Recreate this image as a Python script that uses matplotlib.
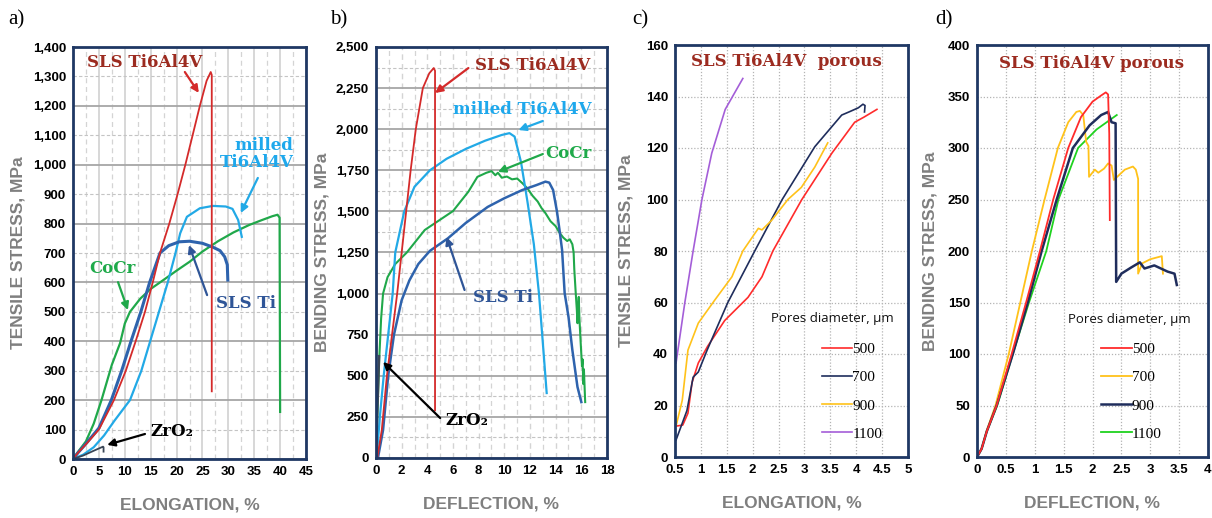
import numpy as np
import matplotlib
matplotlib.use('Agg')
import matplotlib.pyplot as plt
from matplotlib.ticker import MultipleLocator, FuncFormatter
from matplotlib.lines import Line2D

# ---------------- data ----------------
# a) tensile, elongation %
a_red_x = [0, 1, 2.5, 5, 7.9, 10.2, 12.1, 13.9, 15.4, 16.8, 18.6, 20.2, 21.7, 23.1, 24.5, 25.8, 26.6, 26.8, 26.8]
a_red_y = [0, 22, 50, 100, 200, 300, 400, 500, 600, 700, 800, 900, 1000, 1100, 1200, 1285, 1315, 1305, 230]
a_ti_x = [0, 1, 2.5, 5, 7.4, 9.4, 11.2, 13.1, 14.8, 16.8, 18.5, 20.5, 22.5, 25, 27, 28.4, 29.3, 29.8, 29.9]
a_ti_y = [0, 22, 52, 105, 200, 300, 400, 500, 600, 700, 725, 738, 740, 733, 720, 708, 687, 660, 608]
a_mill_x = [0, 2, 4, 6, 8, 11, 13.2, 14.9, 16.6, 18.3, 19.8, 20.7, 22, 24.5, 27, 29.5, 30.8, 31.9, 32.6]
a_mill_y = [0, 15, 40, 80, 130, 200, 300, 400, 500, 600, 700, 767, 823, 852, 860, 858, 850, 812, 755]
a_cocr_x = [0, 1, 2.5, 4, 5.5, 7.5, 9.1, 10, 11, 13, 15, 16.8, 20, 22.5, 25, 28, 31, 34, 36.5, 38.5, 39.5, 39.9, 40]
a_cocr_y = [0, 25, 60, 120, 200, 320, 394, 460, 500, 545, 578, 600, 640, 670, 705, 740, 770, 795, 812, 825, 830, 820, 160]
a_zro_x = [0, 2, 4, 5.8, 5.9, 5.9]
a_zro_y = [0, 12, 28, 42, 40, 25]

# b) bending, deflection %
b_red_x = [0.1, 0.45, 0.85, 1.25, 1.65, 2.0, 2.35, 2.7, 3.1, 3.65, 4.15, 4.5, 4.6, 4.6]
b_red_y = [0, 170, 500, 750, 1000, 1250, 1500, 1750, 2000, 2250, 2340, 2372, 2355, 290]
b_mill_x = [0.05, 0.3, 0.6, 0.95, 1.3, 1.5, 2.2, 3.0, 4.2, 5.5, 7, 8.5, 9.8, 10.4, 10.8, 11.3, 11.8, 12.3, 12.7, 13.0, 13.3]
b_mill_y = [0, 250, 500, 750, 1000, 1250, 1500, 1650, 1750, 1820, 1880, 1930, 1965, 1976, 1955, 1800, 1560, 1300, 1000, 700, 395]
b_cocr_x = [0, 0.1, 0.25, 0.4, 0.55, 0.9, 1.5, 2.4, 3.8, 6.0, 7.2, 7.9, 8.6, 9.0, 9.3, 9.5, 9.8, 10.2, 10.6, 11.0,
            11.4, 11.8, 12.2, 12.6, 12.9, 13.2, 13.6, 14.0, 14.3, 14.6, 14.9, 15.1, 15.3, 15.4, 15.45, 15.55, 15.65,
            15.7, 15.8, 15.85, 15.95, 16.05, 16.1, 16.15, 16.2, 16.3]
b_cocr_y = [0, 250, 600, 850, 1000, 1100, 1180, 1250, 1387, 1502, 1620, 1710, 1735, 1745, 1720, 1735, 1705, 1712, 1695, 1700,
            1672, 1640, 1595, 1560, 1520, 1490, 1440, 1410, 1370, 1340, 1320, 1330, 1300, 1250, 1150, 1020, 900,
            820, 980, 850, 700, 560, 600, 450, 540, 340]
b_ti_x = [0.15, 0.55, 0.95, 1.4, 2.0, 2.6, 3.3, 4.2, 5.6, 7, 8.7, 10, 11.4, 12.5, 13.2, 13.5, 13.8, 14.1, 14.3, 14.5,
          14.7, 15.0, 15.3, 15.7, 16.0]
b_ti_y = [0, 170, 500, 750, 960, 1080, 1180, 1260, 1336, 1430, 1527, 1580, 1630, 1660, 1681, 1675, 1630, 1500, 1387, 1265,
          1003, 858, 657, 432, 340]
b_zro_x = [0.02, 0.1, 0.2, 0.25]
b_zro_y = [0, 250, 500, 620]

# c) porous tensile
c_500_x = [0.52, 0.65, 0.75, 0.83, 0.95, 1.13, 1.46, 1.91, 2.18, 2.39, 2.95, 3.53, 3.97, 4.15, 4.4]
c_500_y = [12, 12.4, 17, 29, 36.5, 43, 53, 62, 70, 80, 100, 118, 130, 132, 135]
c_700_x = [0.52, 0.73, 0.85, 0.95, 1.12, 1.52, 2.04, 2.57, 3.2, 3.72, 3.86, 4.04, 4.13, 4.17, 4.16]
c_700_y = [6.6, 18, 31, 33, 41.5, 60, 80, 100, 120.5, 132.8, 134, 135.6, 137, 136.5, 134]
c_900_x = [0.52, 0.64, 0.75, 0.95, 1.27, 1.6, 1.81, 2.11, 2.18, 2.37, 2.68, 2.94, 3.2, 3.45]
c_900_y = [12, 22, 41.5, 52, 61, 70, 80, 88.8, 88.2, 92, 100, 104.7, 112.6, 122]
c_1100_x = [0.52, 0.69, 0.85, 1.02, 1.21, 1.47, 1.81]
c_1100_y = [36.5, 60, 80, 100, 118, 135, 147]

# d) porous bending
d_500_x = [0, 0.08, 0.17, 0.34, 0.6, 0.85, 1.09, 1.32, 1.58, 1.8, 2.0, 2.15, 2.23, 2.27, 2.29, 2.3]
d_500_y = [0, 8, 25, 50, 100, 150, 200, 250, 300, 330, 345, 351, 354, 352, 314, 230]
d_700_x = [0, 0.08, 0.17, 0.32, 0.55, 0.75, 0.95, 1.17, 1.4, 1.58, 1.72, 1.78, 1.84, 1.89, 1.93, 1.94, 2.04, 2.1,
           2.2, 2.27, 2.33, 2.37, 2.56, 2.7, 2.75, 2.79, 2.79, 2.86, 3.0, 3.2, 3.22]
d_700_y = [0, 8, 26, 50, 100, 150, 200, 250, 300, 325, 335, 336, 332, 306, 302, 272, 279, 276,
           280, 285, 283, 269, 279, 282, 279, 270, 178, 188, 192, 195, 178]
d_900_x = [0, 0.08, 0.17, 0.34, 0.62, 0.88, 1.12, 1.38, 1.66, 1.95, 2.15, 2.27, 2.33, 2.4, 2.41, 2.5, 2.67, 2.82,
           2.9, 3.07, 3.3, 3.42, 3.46]
d_900_y = [0, 8, 25, 50, 100, 150, 200, 250, 300, 322, 332, 335, 325, 324, 170, 178, 184, 189,
           183, 186, 180, 178, 167]
d_1100_x = [0, 0.08, 0.17, 0.35, 0.62, 0.9, 1.2, 1.41, 1.75, 2.07, 2.42]
d_1100_y = [0, 8, 25, 50, 100, 150, 200, 250, 300, 318, 332]

pore_labels = ['500', '700', '900', '1100']

# ---------------- style ----------------
FRAME = '#1f3864'
RED = '#d42a2a'
TIBLUE = '#2e63ad'
LBLUE = '#22a9e6'
GREEN = '#20a84a'
ZRO = '#3a4656'
TXTRED = '#9c2b20'
C_RED, C_NAVY, C_YEL, C_PUR, C_GRN = '#ff2b2b', '#1f2d5c', '#ffc21a', '#a45ed8', '#1fd21f'

TICKFONT = dict(family='Liberation Sans', weight='bold', size=9.5)
LABFONT = dict(family='Liberation Sans', weight='bold', size=12.5, color='#7f7f7f')
NOTEFONT = dict(family='DejaVu Serif', weight='bold', size=12)

fig = plt.figure(figsize=(12.12, 5.18), dpi=100)
W, H = 1212, 518


def make_axes(l, r, t, b):
    return fig.add_axes([l / W, 1 - b / H, (r - l) / W, (b - t) / H])


def frame(ax, ylabel, xlabel, ylab_x):
    ax.set_axisbelow(True)
    for s in ax.spines.values():
        s.set_color(FRAME)
        s.set_linewidth(2.0)
    ax.tick_params(which='both', length=0, pad=5)
    for lab in ax.get_xticklabels(which='both') + ax.get_yticklabels(which='both'):
        lab.set_fontproperties(TICKFONT)
    ax.set_ylabel(ylabel, **LABFONT)
    ax.yaxis.set_label_coords(ylab_x, 0.5)
    ax.set_xlabel(xlabel, **LABFONT)
    ax.xaxis.set_label_coords(0.5, -0.093)


def arrow(ax, tail, head, color, lw=1.6):
    ax.annotate('', xy=head, xytext=tail,
                arrowprops=dict(arrowstyle='-|>', color=color, lw=lw, mutation_scale=11,
                                shrinkA=0, shrinkB=0))


comma = FuncFormatter(lambda v, p: '{:,.0f}'.format(v))
plain = FuncFormatter(lambda v, p: '{:g}'.format(v))

# ---------------- a) ----------------
ax = make_axes(73, 306, 47, 459)
ax.set_xlim(0, 45)
ax.set_ylim(0, 1400)
ax.xaxis.set_major_locator(MultipleLocator(5))
ax.xaxis.set_minor_locator(MultipleLocator(2.5))
ax.yaxis.set_major_locator(MultipleLocator(200))
ax.yaxis.set_minor_locator(MultipleLocator(100))
ax.yaxis.set_major_formatter(comma)
ax.yaxis.set_minor_formatter(comma)
ax.grid(which='major', axis='y', color='#a6a6a6', lw=1.3)
ax.grid(which='minor', axis='y', color='#c4c4c4', lw=0.8, ls=(0, (3, 2)))
ax.grid(which='major', axis='x', color='#d4d4d4', lw=1.3)
ax.grid(which='minor', axis='x', color='#d4d4d4', lw=0.9, ls=(0, (4, 3)))
ax.plot(a_cocr_x, a_cocr_y, color=GREEN, lw=1.6)
ax.plot(a_mill_x, a_mill_y, color=LBLUE, lw=1.6)
ax.plot(a_ti_x, a_ti_y, color=TIBLUE, lw=2.2)
ax.plot(a_red_x, a_red_y, color=RED, lw=1.3)
ax.plot(a_zro_x, a_zro_y, color=ZRO, lw=1.3)
ax.text(13.9, 1349, 'SLS Ti6Al4V', color=TXTRED, ha='center', va='center', **NOTEFONT)
arrow(ax, (21.6, 1315), (24.3, 1244), RED)
ax.text(35.5, 1036, 'milled\nTi6Al4V', color='#1ea8ec', ha='center', va='center', ma='right',
        linespacing=1.0, **NOTEFONT)
arrow(ax, (35.7, 955), (32.4, 836), LBLUE)
ax.text(7.7, 649, 'CoCr', color='#1faa4a', ha='center', va='center', **NOTEFONT)
arrow(ax, (8.7, 601), (10.6, 506), GREEN)
ax.text(33.4, 530, 'SLS Ti', color='#2f5597', ha='center', va='center', **NOTEFONT)
arrow(ax, (25.9, 557), (22.4, 727), '#2f5597')
ax.text(19.1, 92, 'ZrO₂', color='black', ha='center', va='center', **NOTEFONT)
arrow(ax, (13.9, 85), (6.6, 48), 'black')
frame(ax, 'TENSILE STRESS, MPa', 'ELONGATION, %', -0.206)

# ---------------- b) ----------------
ax = make_axes(376, 607, 47, 458)
ax.set_xlim(0, 18)
ax.set_ylim(0, 2500)
ax.xaxis.set_major_locator(MultipleLocator(2))
ax.xaxis.set_minor_locator(MultipleLocator(1))
ax.yaxis.set_major_locator(MultipleLocator(250))
ax.yaxis.set_minor_locator(MultipleLocator(125))
ax.yaxis.set_major_formatter(comma)
ax.grid(which='major', axis='y', color='#a6a6a6', lw=1.3)
ax.grid(which='minor', axis='y', color='#c4c4c4', lw=0.8, ls=(0, (3, 2)))
ax.grid(which='major', axis='x', color='#d4d4d4', lw=1.0, ls=(0, (4, 3)))
ax.grid(which='minor', axis='x', color='#d4d4d4', lw=0.9, ls=(0, (4, 3)))
ax.plot(b_cocr_x, b_cocr_y, color=GREEN, lw=1.5)
ax.plot(b_mill_x, b_mill_y, color=LBLUE, lw=1.6)
ax.plot(b_ti_x, b_ti_y, color=TIBLUE, lw=1.8)
ax.plot(b_red_x, b_red_y, color=RED, lw=1.3)
ax.plot(b_zro_x, b_zro_y, color=ZRO, lw=1.6)
ax.text(12.2, 2390, 'SLS Ti6Al4V', color=TXTRED, ha='center', va='center', **NOTEFONT)
arrow(ax, (7.2, 2372), (4.6, 2220), RED)
ax.text(11.4, 2117, 'milled Ti6Al4V', color='#1ea8ec', ha='center', va='center', **NOTEFONT)
arrow(ax, (13.0, 2050), (11.1, 1995), LBLUE)
ax.text(15.0, 1855, 'CoCr', color='#1faa4a', ha='center', va='center', **NOTEFONT)
arrow(ax, (13.0, 1849), (9.5, 1740), GREEN)
ax.text(9.9, 979, 'SLS Ti', color='#2f5597', ha='center', va='center', **NOTEFONT)
arrow(ax, (6.9, 1022), (5.5, 1344), '#2f5597')
ax.text(7.1, 231, 'ZrO₂', color='black', ha='center', va='center', **NOTEFONT)
arrow(ax, (5.0, 243), (0.55, 584), 'black')
frame(ax, 'BENDING STRESS, MPa', 'DEFLECTION, %', -0.203)


# ---------------- c) and d) ----------------
def porous_legend(ax, colors, widths, lx, ly):
    handles = [Line2D([], [], color=c, lw=w) for c, w in zip(colors, widths)]
    leg = ax.legend(handles, pore_labels, loc='upper left', bbox_to_anchor=(lx, ly), frameon=False,
                    prop=dict(family='Liberation Serif', size=11), handlelength=2.0, handletextpad=0.0,
                    labelspacing=0.95, borderpad=0, borderaxespad=0)
    return leg


dotted = dict(color='#b4b4b4', lw=0.9, ls=(0, (1, 1.5)))

ax = make_axes(675, 908, 45, 457)
ax.set_xlim(0.5, 5)
ax.set_ylim(0, 160)
ax.xaxis.set_major_locator(MultipleLocator(0.5))
ax.yaxis.set_major_locator(MultipleLocator(20))
ax.xaxis.set_major_formatter(plain)
ax.grid(True, **dotted)
ax.plot(c_500_x, c_500_y, color=C_RED, lw=1.2)
ax.plot(c_700_x, c_700_y, color=C_NAVY, lw=1.2)
ax.plot(c_900_x, c_900_y, color=C_YEL, lw=1.2)
ax.plot(c_1100_x, c_1100_y, color=C_PUR, lw=1.2)
ax.text(0.48, 0.961, 'SLS Ti6Al4V  porous', transform=ax.transAxes, color=TXTRED,
        ha='center', va='center', **NOTEFONT)
ax.text(0.677, 0.336, 'Pores diameter, µm', transform=ax.transAxes, ha='center', va='center',
        family='Open Sans', size=9.5, color='#111111')
porous_legend(ax, [C_RED, C_NAVY, C_YEL, C_PUR], [1.2] * 4, 0.63, 0.278)
frame(ax, 'TENSILE STRESS, MPa', 'ELONGATION, %', -0.176)

ax = make_axes(977, 1208, 45, 457)
ax.set_xlim(0, 4)
ax.set_ylim(0, 400)
ax.xaxis.set_major_locator(MultipleLocator(0.5))
ax.yaxis.set_major_locator(MultipleLocator(50))
ax.xaxis.set_major_formatter(plain)
ax.grid(True, **dotted)
ax.plot(d_1100_x, d_1100_y, color=C_GRN, lw=1.3)
ax.plot(d_700_x, d_700_y, color=C_YEL, lw=1.3)
ax.plot(d_900_x, d_900_y, color=C_NAVY, lw=1.8)
ax.plot(d_500_x, d_500_y, color=C_RED, lw=1.3)
ax.text(0.494, 0.956, 'SLS Ti6Al4V porous', transform=ax.transAxes, color=TXTRED,
        ha='center', va='center', **NOTEFONT)
ax.text(0.658, 0.333, 'Pores diameter, µm', transform=ax.transAxes, ha='center', va='center',
        family='Open Sans', size=9.5, color='#111111')
porous_legend(ax, [C_RED, C_YEL, C_NAVY, C_GRN], [1.3, 1.3, 1.8, 1.3], 0.537, 0.278)
frame(ax, 'BENDING STRESS, MPa', 'DEFLECTION, %', -0.173)

# panel letters
for x, s in [(8, 'a)'), (330, 'b)'), (632, 'c)'), (935, 'd)')]:
    fig.text(x / W, 1 - 20 / H, s, family='Liberation Serif', size=15, va='center', ha='left')

fig.savefig('out.png', dpi=100)
